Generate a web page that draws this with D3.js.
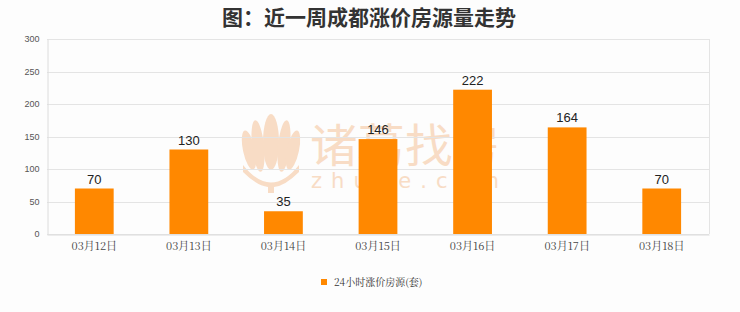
<!DOCTYPE html>
<html>
<head>
<meta charset="utf-8">
<script src="https://cdn.jsdelivr.net/npm/d3@7"></script>
<style>
  body { margin: 0; background: #fdfdfd; }
  svg { display: block; }
</style>
</head>
<body>
<script>
var dates = ["03月12日", "03月13日", "03月14日", "03月15日", "03月16日", "03月17日", "03月18日"];
var counts = [70, 130, 35, 146, 222, 164, 70];
var yTicks = [0, 50, 100, 150, 200, 250, 300];
var seriesName = "24小时涨价房源(套)";
var titleText = "图：近一周成都涨价房源量走势";

var width = 740, height = 312;
var margin = { top: 39, right: 31, bottom: 78, left: 47 };

const svg = d3.select("body").append("svg")
    .attr("width", width)
    .attr("height", height);

svg.append("rect")
    .attr("width", width)
    .attr("height", height)
    .attr("fill", "#fdfdfd");

var x = d3.scaleBand()
    .domain(dates)
    .range([margin.left, width - margin.right])
    .paddingInner(0.59)
    .paddingOuter(0.295);

var y = d3.scaleLinear()
    .domain([0, 300])
    .range([height - margin.bottom, margin.top]);

// watermark (behind everything)
var wmColor = "#f8dcc5";
const wm = svg.append("g");
wm.append("text")
    .attr("x", 310)
    .attr("y", 162)
    .attr("textLength", 190)
    .attr("lengthAdjust", "spacingAndGlyphs")
    .attr("font-family", "'Noto Sans CJK SC', sans-serif")
    .attr("font-size", 46)
    .attr("fill", wmColor)
    .text("诸葛找房");
wm.append("text")
    .attr("x", 311)
    .attr("y", 188)
    .attr("textLength", 188)
    .attr("lengthAdjust", "spacing")
    .attr("font-family", "'DejaVu Sans', sans-serif")
    .attr("font-size", 21)
    .attr("fill", wmColor)
    .text("zhuge.com");
// lotus logo
const logo = wm.append("g").attr("fill", wmColor);
[[-22, 150, 6, 20, -12], [-13, 146, 6, 26, -6], [0, 142, 8, 28, 0], [13, 146, 6, 26, 6], [22, 150, 6, 20, 12]]
    .forEach(p => {
        logo.append("ellipse")
            .attr("cx", 271 + p[0])
            .attr("cy", p[1])
            .attr("rx", p[2])
            .attr("ry", p[3])
            .attr("transform", `rotate(${p[4]},${271 + p[0]},${p[1]})`);
    });
logo.append("path")
    .attr("d", "M243,165 Q271,200 299,165 L299,172 Q285,186 274,187 L274,193 L268,193 L268,187 Q257,186 243,172 Z");

// title
svg.append("text")
    .attr("x", 369)
    .attr("y", 25)
    .attr("text-anchor", "middle")
    .attr("font-family", "'Noto Sans CJK SC', sans-serif")
    .attr("font-weight", "bold")
    .attr("font-size", 21)
    .attr("fill", "#333")
    .text(titleText);

// grid
svg.append("g")
    .selectAll("line")
    .data(yTicks)
    .enter()
    .append("line")
    .attr("x1", margin.left)
    .attr("x2", width - margin.right)
    .attr("y1", d => Math.round(y(d)) + 0.5)
    .attr("y2", d => Math.round(y(d)) + 0.5)
    .attr("stroke", "#e4e4e4")
    .attr("stroke-width", 1);

svg.append("line")
    .attr("x1", width - margin.right + 0.5)
    .attr("x2", width - margin.right + 0.5)
    .attr("y1", y(300))
    .attr("y2", y(0))
    .attr("stroke", "#e4e4e4");

// y axis
const yAxis = svg.append("g")
    .attr("transform", `translate(${margin.left + 0.5},0)`)
    .call(d3.axisLeft(y).tickValues(yTicks).tickSize(0).tickPadding(8));
yAxis.select(".domain").attr("stroke", "#dcdcdc");
yAxis.selectAll("text")
    .attr("font-family", "'Liberation Sans', Arial, sans-serif")
    .attr("font-size", 9)
    .attr("fill", "#555");

// x axis
const xAxis = svg.append("g")
    .attr("transform", `translate(0,${Math.round(y(0)) + 0.5})`)
    .call(d3.axisBottom(x).tickSize(0).tickPadding(8));
xAxis.select(".domain").attr("stroke", "#dcdcdc");
xAxis.selectAll("text")
    .attr("font-family", "'Noto Serif CJK SC', 'Noto Sans CJK SC', serif")
    .attr("font-size", 11)
    .attr("fill", "#444");

// bars
svg.append("g")
    .selectAll("rect")
    .data(counts)
    .enter()
    .append("rect")
    .attr("x", (d, i) => x(dates[i]))
    .attr("y", d => y(d))
    .attr("width", x.bandwidth())
    .attr("height", d => y(0) - y(d))
    .attr("fill", "#ff8800");

// value labels
svg.append("g")
    .selectAll("text")
    .data(counts)
    .enter()
    .append("text")
    .attr("x", (d, i) => x(dates[i]) + x.bandwidth() / 2)
    .attr("y", d => y(d) - 5)
    .attr("text-anchor", "middle")
    .attr("font-family", "'Liberation Sans', Arial, sans-serif")
    .attr("font-size", 13)
    .attr("fill", "#222")
    .text(d => d);

// legend
const legend = svg.append("g");
legend.append("rect")
    .attr("x", 321)
    .attr("y", 279)
    .attr("width", 6)
    .attr("height", 6)
    .attr("fill", "#ff8800");
legend.append("text")
    .attr("x", 334)
    .attr("y", 286)
    .attr("font-family", "'Noto Serif CJK SC', 'Noto Sans CJK SC', serif")
    .attr("font-size", 10)
    .attr("fill", "#333")
    .text(seriesName);
</script>
</body>
</html>
